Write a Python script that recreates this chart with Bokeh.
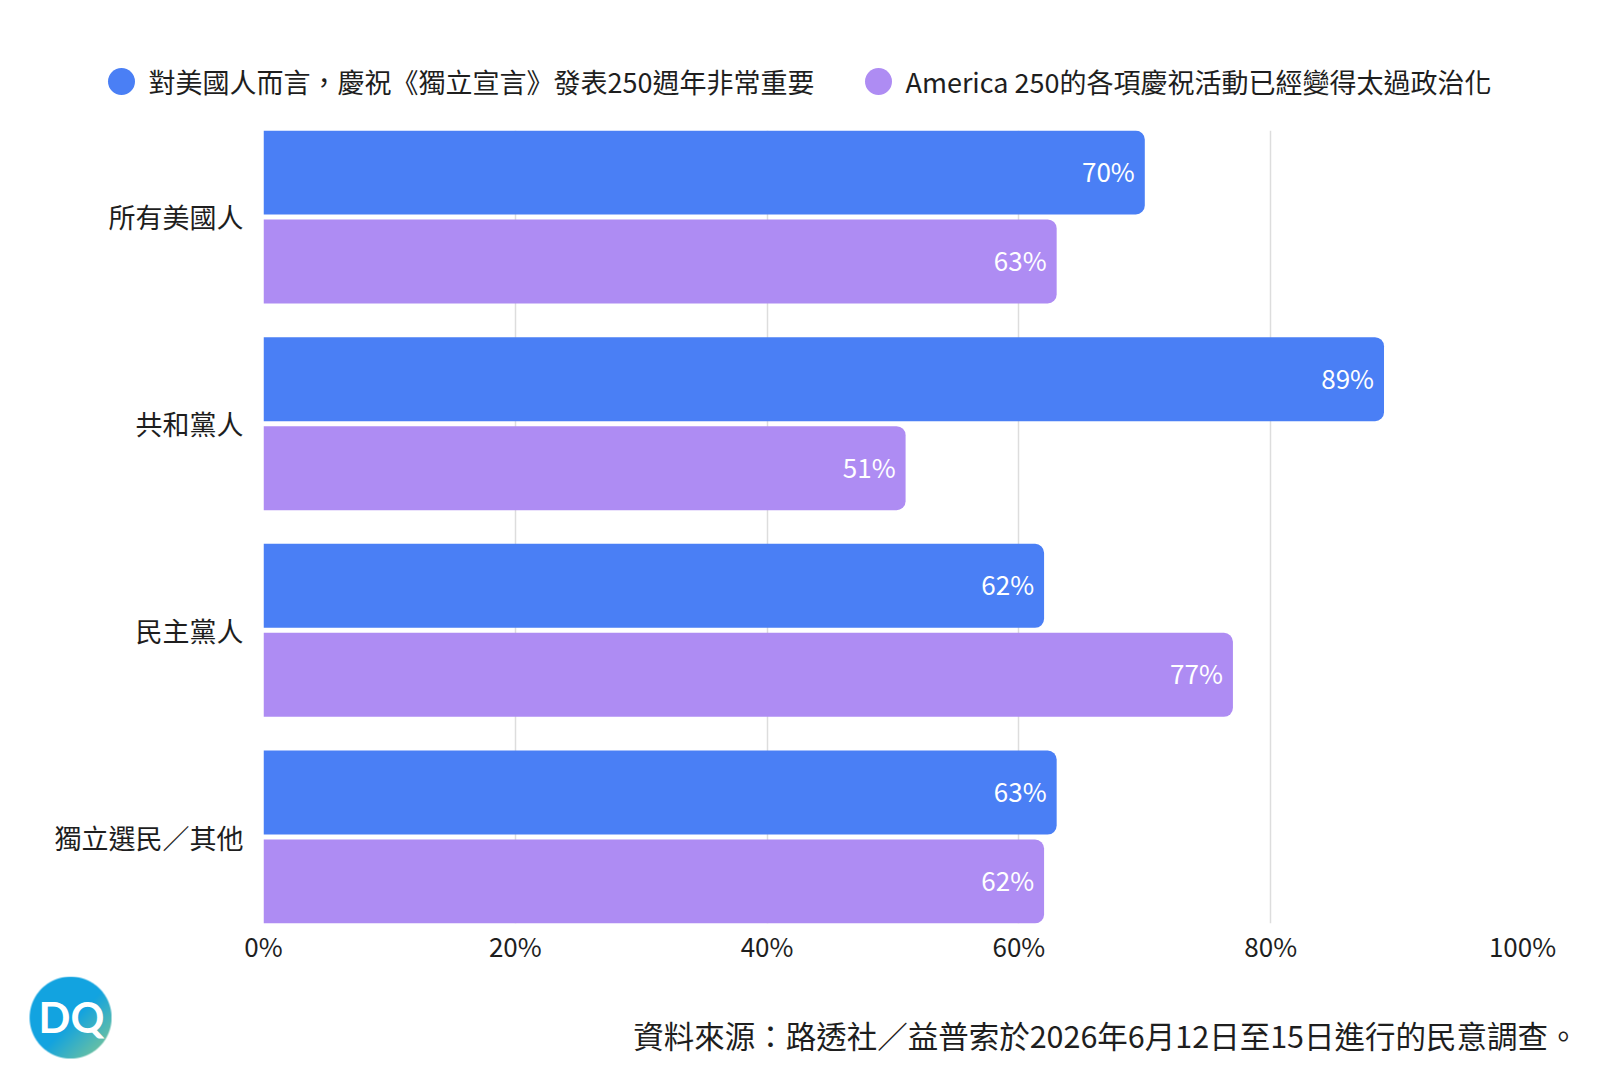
import numpy as np
from bokeh.plotting import figure
from bokeh.layouts import column, row
from bokeh.models import (ColumnDataSource, FactorRange, Range1d, FixedTicker,
                          PrintfTickFormatter)
from bokeh.transform import dodge
from bokeh.core.properties import value
from bokeh.embed import file_html
from bokeh.resources import INLINE

# ---- data ----
groups = ["所有美國人", "共和黨人", "民主黨人", "獨立選民／其他"]
important = [70, 89, 62, 63]
politicized = [63, 51, 77, 62]
series_names = ["對美國人而言，慶祝《獨立宣言》發表250週年非常重要",
                "America 250的各項慶祝活動已經變得太過政治化"]
x_ticks = [0, 20, 40, 60, 80, 100]
source_note = "資料來源：路透社／益普索於2026年6月12日至15日進行的民意調查。"
logo_text = "DQ"

FONT = "Noto Sans CJK TC"
BLUE = "#4a7ff5"
PURPLE = "#ae8cf3"
TXT = "#1e1e1e"

W = 1584
HEAD_H = 130          # page y 0..130
MAIN_TOP, MAIN_BOT = 130, 976
FOOT_TOP, FOOT_BOT = 976, 1064
FL, FR, FT, FB = 263, 1522, 130, 923   # frame edges in page px
PAD = -0.08175                          # per side, in factor units


def no_align(f):
    if "frame_align" in f.properties():
        f.frame_align = False


def blank(h, y0, y1):
    f = figure(width=W, height=h, x_range=Range1d(0, W), y_range=Range1d(y1, y0),
               output_backend="svg", toolbar_location=None,
               x_axis_type=None, y_axis_type=None,
               min_border=0, min_border_left=0, min_border_right=0,
               min_border_top=0, min_border_bottom=0)
    f.outline_line_color = None
    f.xgrid.visible = False
    f.ygrid.visible = False
    f.background_fill_color = "white"
    f.border_fill_color = "white"
    no_align(f)
    return f


# ---- header / legend ----
head = blank(HEAD_H, 0, HEAD_H)
leg_src = ColumnDataSource(dict(cx=[121, 878], tx=[148, 905], cy=[81, 81],
                                col=[BLUE, PURPLE], name=series_names))
head.scatter(x="cx", y="cy", size=27, fill_color="col", line_color=None, source=leg_src)
head.text(x="tx", y="cy", text="name", source=leg_src, text_font=value(FONT),
          text_font_size="27px", text_color=TXT, text_baseline="middle",
          text_align="left")

# ---- main chart ----
src = ColumnDataSource(dict(
    g=groups, a=important, b=politicized,
    la=[f"{v}%" for v in important], lb=[f"{v}%" for v in politicized],
))
yr = FactorRange(factors=list(reversed(groups)), range_padding=PAD,
                 range_padding_units="absolute")
MH = MAIN_BOT - MAIN_TOP
p = figure(width=W, height=MH, y_range=yr, x_range=Range1d(0, 100),
           output_backend="svg", toolbar_location=None,
           min_border_left=FL, min_border_right=W - FR,
           min_border_top=FT - MAIN_TOP, min_border_bottom=MAIN_BOT - FB)
p.outline_line_color = None
p.background_fill_color = "white"
p.border_fill_color = "white"
no_align(p)

bar_h = 0.4064
off = 0.2153
p.hbar(y=dodge("g", off, range=p.y_range), right="a", left=0, height=bar_h,
       source=src, fill_color=BLUE, line_color=None, border_radius=(0, 9, 9, 0))
p.hbar(y=dodge("g", -off, range=p.y_range), right="b", left=0, height=bar_h,
       source=src, fill_color=PURPLE, line_color=None, border_radius=(0, 9, 9, 0))

p.text(x="a", y=dodge("g", off, range=p.y_range), text="la", source=src,
       x_offset=-10, y_offset=-2, text_align="right", text_baseline="middle",
       text_color="white", text_font=value(FONT), text_font_size="26px")
p.text(x="b", y=dodge("g", -off, range=p.y_range), text="lb", source=src,
       x_offset=-10, y_offset=-2, text_align="right", text_baseline="middle",
       text_color="white", text_font=value(FONT), text_font_size="26px")

p.xaxis.ticker = FixedTicker(ticks=x_ticks)
p.xaxis.formatter = PrintfTickFormatter(format="%d%%")
p.xaxis.axis_line_color = None
p.xaxis.major_tick_line_color = None
p.xaxis.minor_tick_line_color = None
p.xaxis.major_label_text_font = FONT
p.xaxis.major_label_text_font_size = "26px"
p.xaxis.major_label_text_color = TXT
p.xaxis.major_label_standoff = -3

p.yaxis.axis_line_color = None
p.yaxis.major_tick_line_color = None
p.yaxis.minor_tick_line_color = None
p.yaxis.major_label_text_font = FONT
p.yaxis.major_label_text_font_size = "27px"
p.yaxis.major_label_text_color = TXT
p.yaxis.major_label_standoff = 14

p.xgrid.grid_line_color = "#dddddd"
p.xgrid.grid_line_width = 1.5
p.ygrid.grid_line_color = None

# ---- footer: logo + source ----
foot = blank(FOOT_BOT - FOOT_TOP, FOOT_TOP, FOOT_BOT)
LR = 41
LCX, LCY = 70, 1017
n = 2 * LR * 4
yy, xx = np.mgrid[0:n, 0:n]
u = (xx + 0.5) / n          # 0 left -> 1 right
v = (yy + 0.5) / n          # 0 top -> 1 bottom (inverted y range)
d = np.sqrt((u - 0.5) ** 2 + (v - 0.5) ** 2) * 2 * LR
alpha = np.clip(LR - d + 0.5, 0, 1)
t = np.clip((u + v - 1.05) / 0.85, 0, 1)
c0 = np.array([18, 163, 224])
c1 = np.array([125, 200, 150])
rgb = c0[None, None, :] * (1 - t[..., None]) + c1[None, None, :] * t[..., None]
img = np.zeros((n, n), dtype=np.uint32)
view = img.view(dtype=np.uint8).reshape((n, n, 4))
view[..., 0] = rgb[..., 0]
view[..., 1] = rgb[..., 1]
view[..., 2] = rgb[..., 2]
view[..., 3] = (alpha * 255).astype(np.uint8)
foot.image_rgba(image=[img], x=LCX - LR, y=LCY - LR, dw=2 * LR, dh=2 * LR)
foot.text(x=[LCX + 1], y=[LCY - 1], text=[logo_text], text_font=value("Lato"),
          text_font_style="bold", text_font_size="42px", text_color="white",
          text_align="center", text_baseline="middle")
foot.text(x=[1578], y=[1034], text=[source_note], text_font=value(FONT),
          text_font_size="30.5px", text_color=TXT, text_align="right",
          text_baseline="middle")

layout = column(row(head), row(p), row(foot), spacing=0)
open("out.html", "w").write(file_html(layout, INLINE))
